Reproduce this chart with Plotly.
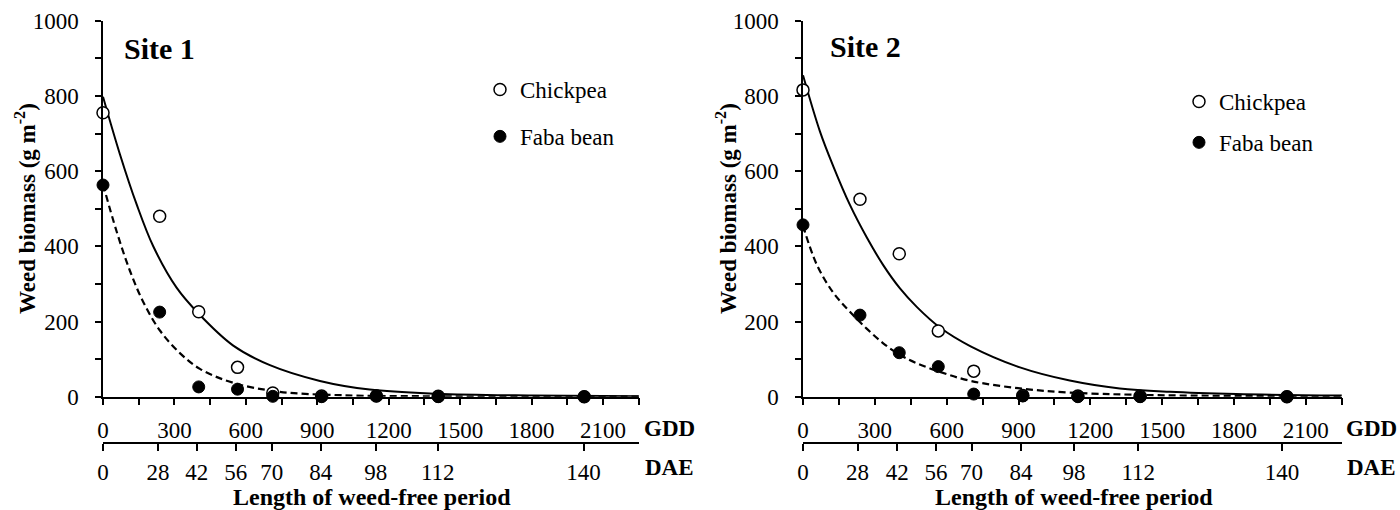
import plotly.graph_objects as go

# ---------------- data ----------------
dae_labels = ["0", "28", "42", "56", "70", "84", "98", "112", "140"]
# GDD positions where the DAE ticks sit on each site's secondary axis
dae_tick_gdd_site1 = [0, 231, 394, 558, 709, 914, 1145, 1406, 2018]
dae_tick_gdd_site2 = [0, 228, 394, 555, 704, 910, 1132, 1400, 2000]
# GDD positions of observations (one per sampling date)
obs_gdd = [0, 238, 402, 565, 713, 918, 1148, 1408, 2021]

site1_chickpea = [755, 480, 226, 78, 10, 2, 2, 1, 0]
site1_faba = [563, 225, 26, 20, 1, 0, 2, 0, 0]
site2_chickpea = [816, 525, 380, 175, 68, 3, 2, 1, 0]
site2_faba = [457, 217, 117, 80, 7, 2, 0, 0, 0]

# fitted curves, points
fit1_chick_x = [0, 71, 141, 211, 309, 403, 547, 701, 911, 1120, 1400, 1800, 2250]
fit1_chick_y = [798, 645, 512, 400, 290, 220, 136, 84, 42, 19, 8, 3, 1]
fit1_faba_x = [0, 57, 113, 169, 239, 323, 407, 547, 743, 1000, 1400, 1800, 2250]
fit1_faba_y = [565, 440, 335, 252, 176, 116, 74, 37, 13, 4, 1, 0, 0]
fit2_chick_x = [0, 71, 127, 196, 266, 335, 405, 475, 572, 700, 906, 1114, 1323, 1532, 1810, 2250]
fit2_chick_y = [855, 705, 612, 510, 424, 350, 288, 239, 184, 134, 78, 43, 22, 13, 7, 3]
fit2_faba_x = [0, 57, 127, 196, 266, 335, 405, 475, 572, 700, 906, 1114, 1400, 1800, 2250]
fit2_faba_y = [455, 352, 276, 226, 181, 142, 111, 89, 66, 42, 22, 11, 5, 2, 1]

y_ticks = [0, 200, 400, 600, 800, 1000]
gdd_ticks = [0, 300, 600, 900, 1200, 1500, 1800, 2100]

# ---------------- layout constants ----------------
W, H = 1400, 510
FONT = "Liberation Serif"
px = lambda v: v / W
py = lambda v: 1 - v / H

fig = go.Figure()

def add_site(xa, ya, x3, cx, cy, fx, fy, chick, faba, leg):
    fig.add_trace(go.Scatter(x=cx, y=cy, mode="lines", line=dict(color="black", width=2, shape="spline"),
                             xaxis=xa, yaxis=ya, showlegend=False, hoverinfo="skip"))
    fig.add_trace(go.Scatter(x=fx, y=fy, mode="lines",
                             line=dict(color="black", width=2.2, dash="7px,4px", shape="spline"),
                             xaxis=xa, yaxis=ya, showlegend=False, hoverinfo="skip"))
    fig.add_trace(go.Scatter(x=obs_gdd, y=chick, mode="markers", name="Chickpea",
                             marker=dict(symbol="circle", size=12, color="white",
                                         line=dict(color="black", width=1.5)),
                             xaxis=xa, yaxis=ya, cliponaxis=False, legend=leg, legendgroup=leg + "c"))
    fig.add_trace(go.Scatter(x=obs_gdd, y=faba, mode="markers", name="Faba bean",
                             marker=dict(symbol="circle", size=12, color="black",
                                         line=dict(color="black", width=1)),
                             xaxis=xa, yaxis=ya, cliponaxis=False, legend=leg, legendgroup=leg + "f"))
    # invisible trace to realise the DAE axis
    fig.add_trace(go.Scatter(x=[0], y=[-500], mode="markers", marker=dict(opacity=0),
                             xaxis=x3, yaxis=ya, showlegend=False, hoverinfo="skip"))

add_site("x", "y", "x3", fit1_chick_x, fit1_chick_y, fit1_faba_x, fit1_faba_y,
         site1_chickpea, site1_faba, "legend")
add_site("x2", "y2", "x4", fit2_chick_x, fit2_chick_y, fit2_faba_x, fit2_faba_y,
         site2_chickpea, site2_faba, "legend2")

tickfont = dict(family=FONT, size=23, color="black")
y_dom = [1 - 396.7 / H, 1 - 20.7 / H]

def yaxis_cfg(anchor, dom_x):
    return dict(domain=y_dom, range=[0, 1000], anchor=anchor, showgrid=False, zeroline=False,
                showline=True, linecolor="black", linewidth=1.5, automargin=False,
                tickvals=y_ticks, ticks="outside", ticklen=6, tickwidth=1.5, tickcolor="black",
                minor=dict(dtick=100, ticks="outside", ticklen=6, tickwidth=1.5, tickcolor="black"),
                tickfont=tickfont, ticklabelstandoff=12)

def xaxis_cfg(anchor, dom):
    return dict(domain=dom, range=[0, 2251], anchor=anchor, showgrid=False, zeroline=False,
                showline=True, linecolor="black", linewidth=1.5, automargin=False,
                tickvals=gdd_ticks, ticks="outside", ticklen=7, tickwidth=1.5, tickcolor="black",
                minor=dict(dtick=150, ticks="outside", ticklen=7, tickwidth=1.5, tickcolor="black"),
                tickfont=tickfont, ticklabelstandoff=5)

def dae_cfg(over, tickpos):
    return dict(overlaying=over, anchor="free", position=1 - 443 / H, range=[0, 2251],
                showgrid=False, zeroline=False, showline=True, linecolor="black", linewidth=1.5,
                automargin=False,
                tickvals=tickpos, ticktext=dae_labels, ticks="outside", ticklen=7,
                tickwidth=1.5, tickcolor="black", tickfont=tickfont, ticklabelstandoff=2)

dom1 = [103 / W, 639 / W]
dom2 = [803 / W, 1342 / W]

legend_common = dict(font=dict(family=FONT, size=23, color="black"), bgcolor="rgba(0,0,0,0)",
                     traceorder="grouped", xanchor="left", yanchor="top", itemwidth=30)

fig.update_layout(
    width=W, height=H, margin=dict(l=0, r=0, t=0, b=0, autoexpand=False),
    plot_bgcolor="white", paper_bgcolor="white",
    font=dict(family=FONT, color="black"),
    xaxis=xaxis_cfg("y", dom1), yaxis=yaxis_cfg("x", dom1),
    xaxis2=xaxis_cfg("y2", dom2), yaxis2=yaxis_cfg("x2", dom2),
    xaxis3=dae_cfg("x", dae_tick_gdd_site1), xaxis4=dae_cfg("x2", dae_tick_gdd_site2),
    legend=dict(x=px(480), y=py(68), tracegroupgap=14, **legend_common),
    legend2=dict(x=px(1179), y=py(80), tracegroupgap=8, **legend_common),
    showlegend=True,
)

ann = []
def text(x, y, s, size, bold=True, angle=0):
    ann.append(dict(x=px(x), y=py(y), xref="paper", yref="paper", text=f"<b>{s}</b>" if bold else s,
                    showarrow=False, textangle=angle, xanchor="center", yanchor="middle",
                    font=dict(family=FONT, size=size, color="black")))

text(159, 49, "Site 1", 30)
text(865, 46, "Site 2", 30)
for xc in (25, 726):
    text(xc, 209, "Weed biomass (g m<sup>-2</sup>)", 23, angle=-90)
text(669, 428, "GDD", 23)
text(669, 467, "DAE", 23)
text(1371, 428, "GDD", 23)
text(1371, 467, "DAE", 23)
text(372, 497, "Length of weed-free period", 24)
text(1074, 497, "Length of weed-free period", 24)
fig.update_layout(annotations=ann)

fig.write_html("out.html")
